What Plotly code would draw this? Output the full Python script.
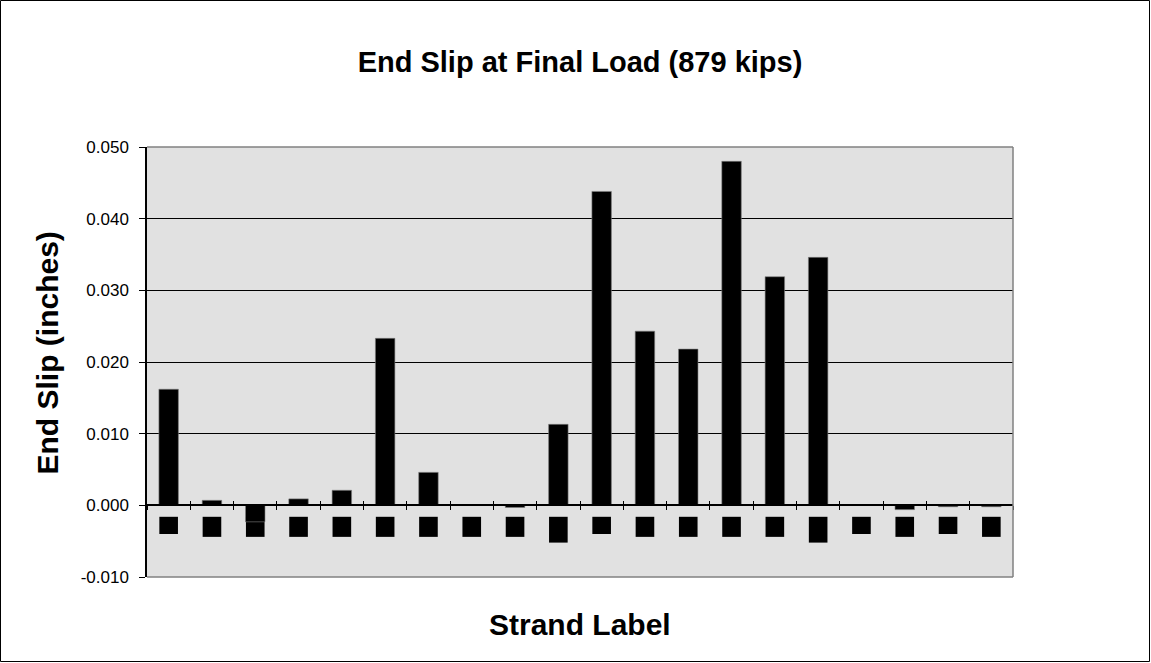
import plotly.graph_objects as go

strands = [f"S{i}" for i in range(1, 21)]
end_slip = [0.0162, 0.0007, -0.0023, 0.0009, 0.0021, 0.0233, 0.0046, 0.0,
            -0.0003, 0.0113, 0.0438, 0.0243, 0.0218, 0.0480, 0.0319, 0.0346,
            0.0, -0.0006, -0.0002, -0.0002]
# label placeholders shown as black blocks below the axis (top and bottom)
label_top = [-0.0016] * 20
label_bottom = [-0.0040, -0.0044, -0.0044, -0.0044, -0.0044, -0.0044, -0.0044, -0.0044,
                -0.0044, -0.0052, -0.0040, -0.0044, -0.0044, -0.0044, -0.0044, -0.0052,
                -0.0040, -0.0044, -0.0040, -0.0044]
y_ticks = [-0.010, 0.000, 0.010, 0.020, 0.030, 0.040, 0.050]
y_tick_text = ["-0.010", "0.000", "0.010", "0.020", "0.030", "0.040", "0.050"]

FONT = "Liberation Sans, Arial, sans-serif"
PW, PH = 866, 430  # plot area size in px (for paper-coordinate conversions)

fig = go.Figure()
fig.add_trace(go.Bar(
    x=strands, y=[b - t for b, t in zip(label_bottom, label_top)], base=label_top,
    marker=dict(color="black", line=dict(width=0)), width=0.43, hoverinfo="skip",
    showlegend=False))
fig.add_trace(go.Bar(
    x=strands, y=end_slip, marker=dict(color="black", line=dict(color="#808080", width=0.6)),
    width=0.45, showlegend=False))

fig.update_layout(
    width=1151, height=663,
    margin=dict(l=147, r=138, t=147, b=86),
    paper_bgcolor="white", plot_bgcolor="#E1E1E1",
    barmode="overlay",
    font=dict(family=FONT, color="black"),
    title=dict(text="<b>End Slip at Final Load (879 kips)</b>", x=0.5, xanchor="center",
               xref="paper", y=1 - 62 / 663, yanchor="middle", font=dict(size=29, family=FONT)),
    xaxis=dict(type="category", range=[-0.5, 19.5], showticklabels=False,
               tickson="boundaries", ticks="outside", ticklen=4, tickcolor="black",
               showline=True, linecolor="black", linewidth=1.5,
               anchor="free", position=(0 - (-0.010)) / 0.060,
               showgrid=False, zeroline=False, title=None),
    yaxis=dict(range=[-0.010, 0.050], tickmode="array", tickvals=y_ticks,
               ticktext=y_tick_text, ticks="outside", ticklen=6, tickcolor="black",
               ticklabelstandoff=7,
               tickfont=dict(size=17, family=FONT),
               showline=True, linecolor="black", linewidth=1.5,
               showgrid=True, gridcolor="black", gridwidth=1,
               zeroline=False, title=None),
    xaxis2=dict(type="category", range=[-0.5, 19.5], overlaying="x", matches="x",
                showticklabels=False, tickson="boundaries", ticks="inside", ticklen=4,
                tickcolor="black", anchor="free", position=(0 - (-0.010)) / 0.060,
                showline=False, showgrid=False, zeroline=False),
    shapes=[
        dict(type="line", xref="paper", yref="paper", x0=0, x1=1, y0=1, y1=1,
             line=dict(color="#808080", width=1.5)),
        dict(type="line", xref="paper", yref="paper", x0=1, x1=1, y0=0, y1=1,
             line=dict(color="#808080", width=1.5)),
        dict(type="line", xref="paper", yref="paper", x0=0, x1=1, y0=0, y1=0,
             line=dict(color="#808080", width=1.5)),
        dict(type="rect", xref="paper", yref="paper",
             x0=-146.5 / PW, x1=(1149.5 - 147) / PW,
             y0=(577 - 661.5) / PH, y1=(577 - 0.5) / PH,
             line=dict(color="black", width=1)),
    ],
    annotations=[
        dict(text="<b>Strand Label</b>", xref="paper", yref="paper",
             x=(579.5 - 147) / PW, y=(577 - 624) / PH,
             xanchor="center", yanchor="middle", showarrow=False,
             font=dict(size=30, family=FONT)),
        dict(text="<b>End Slip (inches)</b>", xref="paper", yref="paper",
             x=(46.5 - 147) / PW, y=(577 - 353) / PH, textangle=-90,
             xanchor="center", yanchor="middle", showarrow=False,
             font=dict(size=30, family=FONT)),
    ],
)
# invisible trace to activate xaxis2 for crossing ticks
fig.add_trace(go.Bar(x=strands, y=[None] * 20, xaxis="x2", showlegend=False, hoverinfo="skip"))

fig.write_html("out.html")
